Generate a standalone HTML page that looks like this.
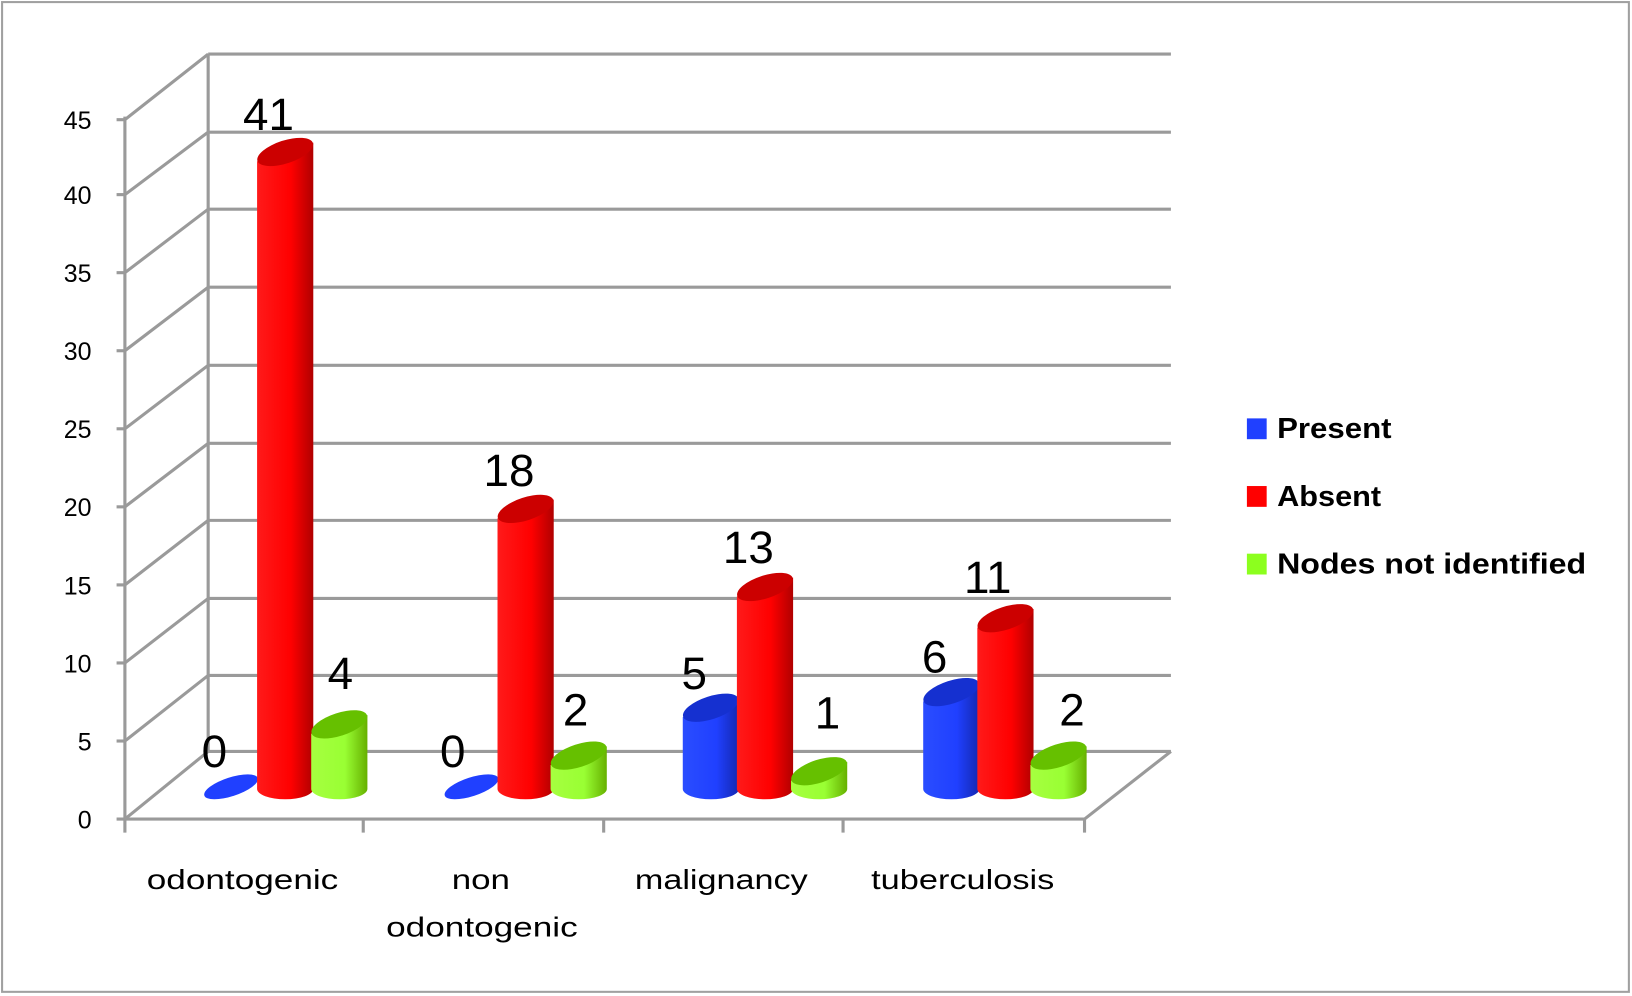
<!DOCTYPE html>
<html><head><meta charset="utf-8"><style>
html,body{margin:0;padding:0;background:#fff;}
svg{display:block;}
text{font-family:"Liberation Sans",sans-serif;fill:#000;}
</style></head><body>
<svg width="1632" height="996" viewBox="0 0 1568 957" preserveAspectRatio="none" xmlns="http://www.w3.org/2000/svg">
<defs>
<linearGradient id="gr" x1="0" x2="1" y1="0" y2="0"><stop offset="0" stop-color="#ff1a1a"/><stop offset="0.6" stop-color="#ff0000"/><stop offset="1" stop-color="#b00000"/></linearGradient>
<linearGradient id="gb" x1="0" x2="1" y1="0" y2="0"><stop offset="0" stop-color="#2a4dff"/><stop offset="0.6" stop-color="#2040ff"/><stop offset="1" stop-color="#1428b0"/></linearGradient>
<linearGradient id="gg" x1="0" x2="1" y1="0" y2="0"><stop offset="0" stop-color="#a6ff40"/><stop offset="0.6" stop-color="#99ff33"/><stop offset="1" stop-color="#66b000"/></linearGradient>
</defs>
<rect x="2" y="2" width="1563" height="951" fill="#fff" stroke="#a0a0a0" stroke-width="2"/>
<g stroke="#9a9a9a" stroke-width="3" fill="none">
<line x1="200" y1="52" x2="1125" y2="52"/><line x1="200" y1="127" x2="1125" y2="127"/><line x1="200" y1="201" x2="1125" y2="201"/><line x1="200" y1="276" x2="1125" y2="276"/><line x1="200" y1="351" x2="1125" y2="351"/><line x1="200" y1="426" x2="1125" y2="426"/><line x1="200" y1="500" x2="1125" y2="500"/><line x1="200" y1="575" x2="1125" y2="575"/><line x1="200" y1="649" x2="1125" y2="649"/><line x1="200" y1="722" x2="1125" y2="722"/>
<line x1="200" y1="52" x2="200" y2="722"/>
<line x1="120" y1="115" x2="200" y2="52"/><line x1="120" y1="187" x2="200" y2="127"/><line x1="120" y1="262" x2="200" y2="201"/><line x1="120" y1="337" x2="200" y2="276"/><line x1="120" y1="412" x2="200" y2="351"/><line x1="120" y1="487" x2="200" y2="426"/><line x1="120" y1="562" x2="200" y2="500"/><line x1="120" y1="637" x2="200" y2="575"/><line x1="120" y1="712" x2="200" y2="649"/><line x1="120" y1="787" x2="200" y2="722"/>
<line x1="1042" y1="787" x2="1125" y2="722"/>
<line x1="120" y1="112" x2="120" y2="800"/>
<line x1="120" y1="787" x2="1042" y2="787"/>
<line x1="1042" y1="787" x2="1042" y2="800"/>
<line x1="349" y1="787" x2="349" y2="800"/><line x1="580" y1="787" x2="580" y2="800"/><line x1="810" y1="787" x2="810" y2="800"/>
<line x1="112" y1="115" x2="120" y2="115"/><line x1="112" y1="187" x2="120" y2="187"/><line x1="112" y1="262" x2="120" y2="262"/><line x1="112" y1="337" x2="120" y2="337"/><line x1="112" y1="412" x2="120" y2="412"/><line x1="112" y1="487" x2="120" y2="487"/><line x1="112" y1="562" x2="120" y2="562"/><line x1="112" y1="637" x2="120" y2="637"/><line x1="112" y1="712" x2="120" y2="712"/><line x1="112" y1="787" x2="120" y2="787"/>
</g>
<g font-size="24" text-anchor="end">
<text x="88" y="124">45</text><text x="88" y="196">40</text><text x="88" y="271">35</text><text x="88" y="346">30</text><text x="88" y="421">25</text><text x="88" y="496">20</text><text x="88" y="571">15</text><text x="88" y="646">10</text><text x="88" y="721">5</text><text x="88" y="796">0</text>
</g>
<g>
<ellipse cx="222" cy="756" rx="27" ry="9" fill="#2040ff" transform="rotate(-18 222 756)"/>
<path d="M247 155 L247 758 A27 10 0 0 0 301 758 L301 137 Z" fill="url(#gr)"/>
<ellipse cx="274" cy="146" rx="28" ry="11" fill="#cc0000" transform="rotate(-18 274 146)"/>
<path d="M299 705 L299 758 A27 10 0 0 0 353 758 L353 687 Z" fill="url(#gg)"/>
<ellipse cx="326" cy="696" rx="28" ry="11" fill="#66c000" transform="rotate(-18 326 696)"/>

<ellipse cx="453" cy="756" rx="27" ry="9" fill="#2040ff" transform="rotate(-18 453 756)"/>
<path d="M478 498 L478 758 A27 10 0 0 0 532 758 L532 480 Z" fill="url(#gr)"/>
<ellipse cx="505" cy="489" rx="28" ry="11" fill="#cc0000" transform="rotate(-18 505 489)"/>
<path d="M529 735 L529 758 A27 10 0 0 0 583 758 L583 717 Z" fill="url(#gg)"/>
<ellipse cx="556" cy="726" rx="28" ry="11" fill="#66c000" transform="rotate(-18 556 726)"/>

<path d="M656 689 L656 758 A27 10 0 0 0 710 758 L710 671 Z" fill="url(#gb)"/>
<ellipse cx="683" cy="680" rx="28" ry="11" fill="#1530d0" transform="rotate(-18 683 680)"/>
<path d="M708 573 L708 758 A27 10 0 0 0 762 758 L762 555 Z" fill="url(#gr)"/>
<ellipse cx="735" cy="564" rx="28" ry="11" fill="#cc0000" transform="rotate(-18 735 564)"/>
<path d="M760 750 L760 758 A27 10 0 0 0 814 758 L814 732 Z" fill="url(#gg)"/>
<ellipse cx="787" cy="741" rx="28" ry="11" fill="#66c000" transform="rotate(-18 787 741)"/>

<path d="M887 674 L887 758 A27 10 0 0 0 941 758 L941 656 Z" fill="url(#gb)"/>
<ellipse cx="914" cy="665" rx="28" ry="11" fill="#1530d0" transform="rotate(-18 914 665)"/>
<path d="M939 603 L939 758 A27 10 0 0 0 993 758 L993 585 Z" fill="url(#gr)"/>
<ellipse cx="966" cy="594" rx="28" ry="11" fill="#cc0000" transform="rotate(-18 966 594)"/>
<path d="M990 735 L990 758 A27 10 0 0 0 1044 758 L1044 717 Z" fill="url(#gg)"/>
<ellipse cx="1017" cy="726" rx="28" ry="11" fill="#66c000" transform="rotate(-18 1017 726)"/>
</g>
<g font-size="44" text-anchor="middle">
<text x="258" y="125">41</text><text x="206" y="737">0</text><text x="327" y="662">4</text>
<text x="489" y="467">18</text><text x="435" y="737">0</text><text x="553" y="697">2</text>
<text x="719" y="541">13</text><text x="667" y="662">5</text><text x="795" y="700">1</text>
<text x="949" y="570">11</text><text x="898" y="646">6</text><text x="1030" y="697">2</text>
</g>
<g font-size="27" text-anchor="middle">
<text x="233" y="854" textLength="184" lengthAdjust="spacingAndGlyphs">odontogenic</text>
<text x="462" y="854" textLength="56" lengthAdjust="spacingAndGlyphs">non</text>
<text x="463" y="900" textLength="184" lengthAdjust="spacingAndGlyphs">odontogenic</text>
<text x="693" y="854" textLength="166" lengthAdjust="spacingAndGlyphs">malignancy</text>
<text x="925" y="854" textLength="176" lengthAdjust="spacingAndGlyphs">tuberculosis</text>
</g>
<rect x="1198" y="402" width="19" height="20" fill="#2040ff"/>
<rect x="1198" y="467" width="19" height="20" fill="#ff0000"/>
<rect x="1198" y="532" width="19" height="20" fill="#8cff1e"/>
<g font-size="28" font-weight="bold">
<text x="1227" y="421" textLength="110" lengthAdjust="spacingAndGlyphs">Present</text>
<text x="1227" y="486" textLength="100" lengthAdjust="spacingAndGlyphs">Absent</text>
<text x="1227" y="551" textLength="297" lengthAdjust="spacingAndGlyphs">Nodes not identified</text>
</g>
</svg>
</body></html>
